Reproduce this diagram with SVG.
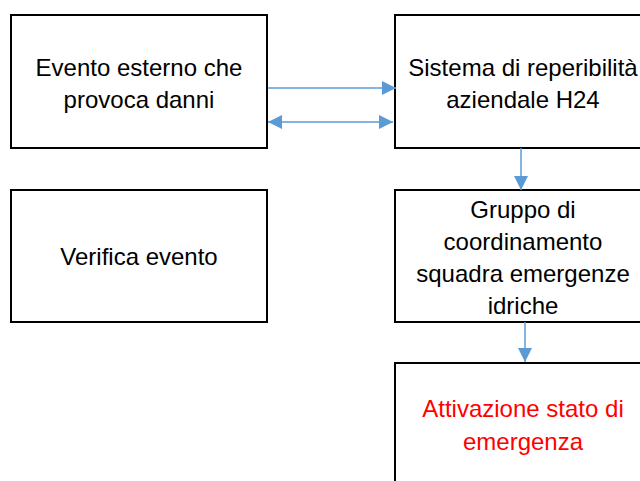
<svg xmlns="http://www.w3.org/2000/svg" width="640" height="481" viewBox="0 0 640 481">
<defs>
<style>
.box{fill:#fff;stroke:#000;stroke-width:2}
.t{font-family:"Liberation Sans",Arial,sans-serif;font-size:24px;fill:#000;text-anchor:middle}
.red{fill:#ff0000}
.c{stroke:#5b9bd5;stroke-width:1.5;fill:none}
</style>
<marker id="ahb" viewBox="0 0 14 14" refX="14" refY="7" markerWidth="14" markerHeight="14" markerUnits="userSpaceOnUse" orient="auto-start-reverse">
<path d="M0,0 L14,7 L0,14 Z" fill="#5b9bd5"/>
</marker>
</defs>
<rect width="640" height="481" fill="#fff"/>
<g id="n1"><rect class="box" x="11" y="15" width="256" height="133"/>
<text class="t" x="139" y="76">Evento esterno che</text>
<text class="t" x="139" y="108">provoca danni</text></g>
<g id="n2"><rect class="box" x="395" y="15" width="256" height="133"/>
<text class="t" x="523" y="76">Sistema di reperibilità</text>
<text class="t" x="523" y="108">aziendale H24</text></g>
<g id="n3"><rect class="box" x="11" y="190" width="256" height="132"/>
<text class="t" x="139" y="265">Verifica evento</text></g>
<g id="n4"><rect class="box" x="395" y="190" width="256" height="132"/>
<text class="t" x="523" y="218">Gruppo di</text>
<text class="t" x="523" y="250">coordinamento</text>
<text class="t" x="523" y="282">squadra emergenze</text>
<text class="t" x="523" y="314">idriche</text></g>
<g id="n5"><rect class="box" x="395" y="363" width="256" height="140"/>
<text class="t red" x="523" y="417">Attivazione stato di</text>
<text class="t red" x="523" y="450">emergenza</text></g>
<g id="connectors">
<line class="c" x1="268" y1="88" x2="396" y2="88" marker-end="url(#ahb)"/>
<line class="c" x1="268" y1="122" x2="393" y2="122" marker-start="url(#ahb)" marker-end="url(#ahb)"/>
<line class="c" x1="521" y1="148" x2="521" y2="190" marker-end="url(#ahb)"/>
<line class="c" x1="525" y1="322" x2="525" y2="362" marker-end="url(#ahb)"/>
</g>
</svg>
